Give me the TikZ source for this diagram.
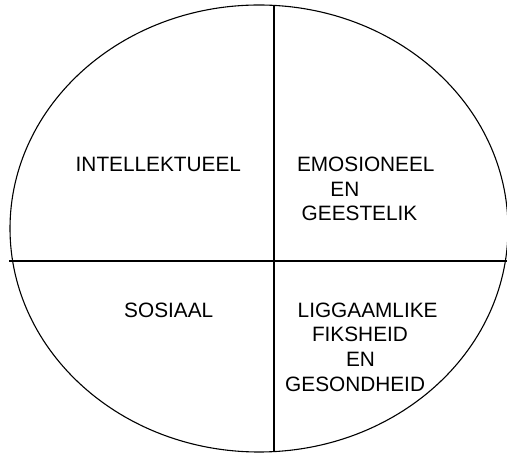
\documentclass[tikz,border=0pt]{standalone}
\usepackage{fontspec}
\setmainfont{Liberation Sans}
\usepackage{tikz}
\usetikzlibrary{shapes.geometric}

\begin{document}
\begin{tikzpicture}[x=1pt,y=-1pt,
        rim/.style={draw=black,line width=1.1pt,ellipse,inner sep=0pt,
                    minimum width=498pt,minimum height=447pt},
        split/.style={line width=1.1pt,color=black},
        lbl/.style={font=\fontsize{20.8}{25}\selectfont,inner sep=0pt,
                    anchor=base west,text=black}
      ]
        \useasboundingbox (0,0) rectangle (507,454);
        \node[rim] (wheel) at (259,228.5) {};
        \coordinate (top) at (274,5);
        \coordinate (bot) at (274,452);
        \coordinate (lft) at (9,261);
        \coordinate (rgt) at (507,261);
        \draw[split] (top)--(bot);
        \draw[split] (lft)--(rgt);
        % top half
        \node[lbl] (intel) at (75.5,171.7) {INTELLEKTUEEL};
        \node[lbl] (emo) at (296.8,171.7) {EMOSIONEEL};
        \node[lbl] (emoen) at (330.2,196.7) {EN};
        \node[lbl] (geest) at (301.5,220.7) {GEESTELIK};
        % bottom half
        \node[lbl] (sos) at (124,317.7) {SOSIAAL};
        \node[lbl] (ligg) at (297.5,318) {LIGGAAMLIKE};
        \node[lbl] (fiks) at (311.8,342) {FIKSHEID};
        \node[lbl] (ligen) at (345.8,366.7) {EN};
        \node[lbl] (gesond) at (285,391.7) {GESONDHEID};
      \end{tikzpicture}
\end{document}
